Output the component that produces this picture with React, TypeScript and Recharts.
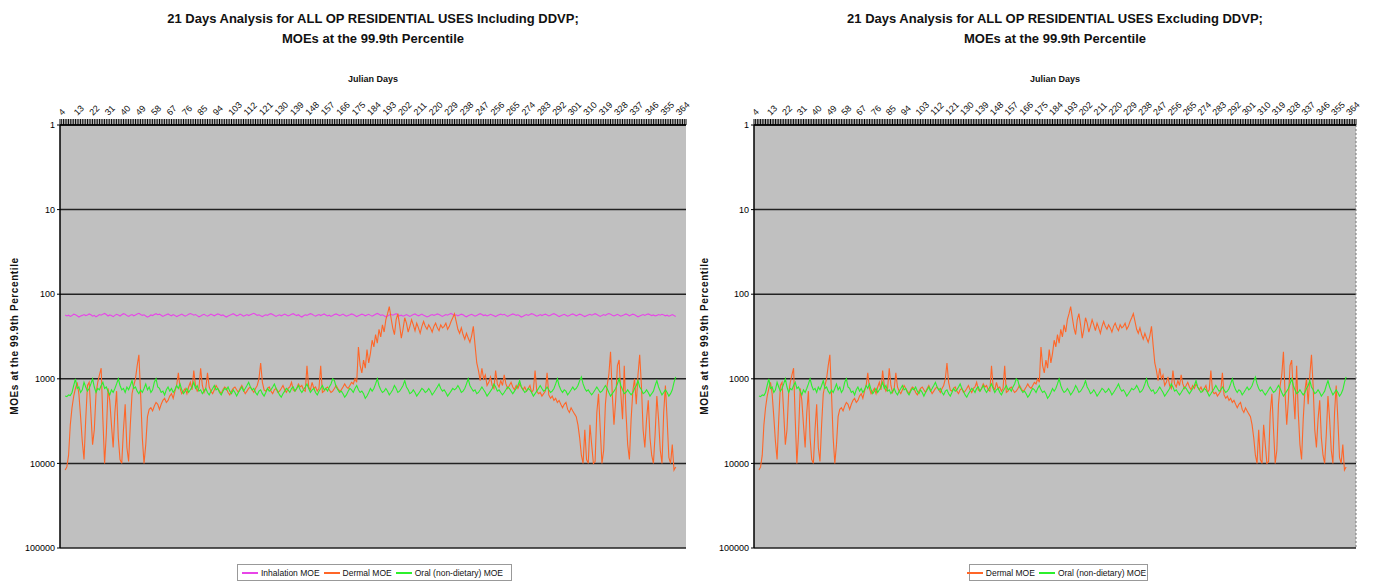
import React from 'react';
import { LineChart, Line, XAxis, YAxis, CartesianGrid, ReferenceLine } from 'recharts';

const FONT = "'Liberation Sans Narrow','Liberation Sans',Arial,sans-serif";

// Julian day categories (1..366); series start on day 4
const days: number[] = [];
for (let d = 1; d <= 366; d++) days.push(d);
const FIRST_DAY = 4;

const dayTickLabels = [4, 13, 22, 31, 40, 49, 58, 67, 76, 85, 94, 103, 112, 121, 130, 139, 148, 157, 166, 175, 184, 193, 202, 211, 220, 229, 238, 247, 256, 265, 274, 283, 292, 301, 310, 319, 328, 337, 346, 355, 364];
const yTicks = [1, 10, 100, 1000, 10000, 100000];

const inhalationMOE = [
  176,181,177,183,179,172,175,180,186,181,
  178,174,179,176,171,175,182,178,185,180,
  174,177,172,169,174,181,176,179,184,178,
  173,176,181,175,170,173,179,183,177,174,
  180,176,171,168,174,178,175,181,187,182,
  176,179,174,170,175,172,177,183,179,175,
  171,176,180,174,178,184,180,176,172,177,
  182,178,173,169,172,177,174,179,185,181,
  176,173,178,182,177,172,176,180,175,171,
  174,179,176,181,186,181,177,174,170,175,
  180,177,172,176,182,178,174,179,175,171,
  168,173,178,175,180,184,179,175,178,173,
  170,174,179,183,178,175,180,176,172,176,
  181,177,173,170,175,179,175,181,186,180,
  175,178,174,170,173,178,182,177,174,179,
  175,171,176,181,177,183,179,174,171,175,
  179,176,172,177,182,178,175,171,174,179,
  184,180,176,172,175,180,176,173,178,182,
  177,173,169,173,178,175,180,185,181,176,
  173,177,174,170,175,180,177,182,178,174,
  179,183,178,174,171,176,180,176,172,177,
  181,186,182,177,174,178,175,171,174,179,
  183,178,174,177,172,169,174,179,175,180,
  176,172,175,181,185,180,176,173,177,182,
  178,174,170,174,179,176,181,177,173,176,
  180,184,179,175,172,176,173,178,183,179,
  175,171,174,178,175,180,186,182,177,174,
  178,174,170,173,177,182,178,174,179,175,
  172,176,181,177,173,170,174,179,184,180,
  176,173,177,182,178,174,171,175,180,176,
  172,175,180,184,180,176,173,177,174,170,
  174,179,183,178,174,178,173,169,172,177,
  181,177,173,177,182,178,175,171,175,180,
  176,172,175,180,185,181,177,174,178,174,
  171,175,179,176,181,178,174,177,173,176,
  180,177,182,178,174,179,183,
];

const dermalMOE = [
  // days 4-53
  12000,11000,8000,3500,2200,1600,1300,1100,1500,2800,
  5500,9000,3000,1200,1100,2500,6000,4000,1500,1100,
  900,750,3000,10000,4500,1300,1800,3500,6500,2500,
  1400,5000,9000,10000,4000,2000,6500,9500,3500,1500,
  1200,1000,700,520,1500,5000,10000,6000,2800,2300,
  // days 54-173
  2200,2400,2100,1900,2000,2300,2000,1800,1700,1900,
  1800,1600,1500,1700,1400,1200,850,1300,1500,1400,
  1300,1500,1250,1100,1350,800,1200,1400,1300,750,
  1200,1450,1300,850,1250,1400,1500,1350,1200,1300,
  1400,1500,1350,1250,1300,1450,1550,1400,1300,1250,
  1350,1450,1300,1200,1350,1500,1400,1300,1250,1350,
  1450,1300,1200,1000,650,1100,1350,1400,1300,1250,
  1400,1500,1350,1300,1450,1400,1300,1200,1350,1450,
  1300,1250,1100,1350,1400,1300,1150,1250,1200,1350,
  1400,700,1250,1350,1100,1300,1250,1400,1300,700,
  1450,1400,1300,1250,1350,1450,1400,1300,1200,1300,
  1400,1350,1250,1150,1250,1300,1200,1100,1150,1000,
  // days 174-250
  1100,420,700,850,600,750,450,650,500,350,420,
  300,380,260,320,230,280,200,170,140,190,
  250,300,200,170,230,330,260,190,220,280,
  240,200,230,270,220,250,290,240,210,240,
  260,230,250,280,240,220,250,270,230,250,
  240,220,260,240,210,190,170,210,260,290,
  250,300,340,290,330,370,310,240,400,650,
  800,1050,750,1000,900,1200,
  // days 251-304
  1100,950,1200,1300,800,1150,1250,1050,1200,900,
  1150,1300,1200,1100,1250,1350,1200,1300,1150,1250,
  1350,1250,1400,1300,1200,1450,1350,800,1400,1500,
  1450,1600,1500,1400,850,1550,1700,1600,1800,1700,
  1900,1800,2000,2200,2000,1900,2300,2500,2200,2400,
  2600,2800,3500,5000,
  // days 305-360
  8000,10000,4000,9000,10000,3500,6000,10000,9500,2500,
  1500,4000,10000,7000,2000,1200,900,480,1500,3500,
  1800,700,600,1500,3000,700,2500,6000,9000,3000,
  1400,1000,2000,900,520,1200,4000,6500,3000,1800,
  5000,8000,10000,4500,1600,3000,7000,10000,2500,1200,
  3000,8500,10000,6000,12000,11000,
];

const oralMOE = [
  1600,1620,1550,1580,1450,1200,1000,1300,1250,1450,
  1350,1100,1250,1400,1300,1150,1000,1250,1450,1300,
  1350,1200,1100,1300,1250,1400,1550,1350,1450,1300,
  1150,1000,1200,1350,1300,1450,1250,1350,1200,1050,
  1300,1250,1400,1500,1350,1450,1300,1150,1350,1250,
  1450,1350,1100,1000,1250,1300,1450,1400,1550,1350,
  1250,1400,1300,1450,1350,1200,1300,1150,1350,1500,
  1400,1300,1450,1350,1250,1100,1300,1200,1400,1350,
  1500,1400,1300,1450,1550,1400,1300,1200,1350,1300,
  1450,1550,1400,1300,1350,1250,1400,1500,1350,1450,
  1600,1450,1350,1250,1400,1300,1200,1100,1250,1350,
  1300,1450,1550,1400,1350,1500,1600,1450,1300,1400,
  1350,1250,1150,1300,1400,1550,1650,1500,1400,1300,
  1350,1450,1300,1250,1400,1300,1200,1350,1450,1350,
  1250,1150,1300,1450,1350,1300,1450,1550,1400,1300,
  1200,1350,1300,1400,1250,1150,1000,1050,1250,1350,
  1450,1400,1500,1650,1550,1400,1300,1350,1450,1300,
  1200,1350,1450,1400,1500,1700,1600,1450,1300,1400,
  1300,1150,1000,1200,1350,1450,1400,1300,1400,1550,
  1450,1350,1200,1300,1450,1400,1300,1200,1050,1250,
  1350,1500,1450,1350,1450,1600,1500,1400,1300,1350,
  1450,1400,1300,1400,1550,1450,1350,1250,1150,1300,
  1400,1350,1450,1600,1500,1400,1300,1350,1300,1200,
  1300,1450,1400,1300,1150,1000,1200,1300,1400,1350,
  1500,1450,1350,1250,1350,1450,1600,1500,1400,1300,
  1150,1250,1400,1350,1450,1550,1450,1350,1250,1300,
  1400,1500,1400,1300,1200,1050,1250,1350,1450,1400,
  1300,1350,1450,1600,1500,1400,1300,1200,1300,1400,
  1350,1250,1350,1450,1400,1300,1150,1000,1200,1350,
  1450,1350,1400,1550,1450,1350,1250,1350,1300,1200,
  1050,950,1150,1300,1400,1350,1450,1550,1450,1350,
  1250,1350,1450,1400,1300,1200,1300,1450,1600,1500,
  1400,1300,1150,1000,1200,1350,1500,1450,1350,1450,
  1550,1450,1300,1200,1050,1250,1350,1500,1450,1350,
  1450,1600,1500,1400,1200,1050,1250,1400,1550,1450,
  1350,1450,1600,1500,1350,1100,950,
];

const COLORS = { inhalation: '#E845E8', dermal: '#FF6628', oral: '#2CF02C' };
const LABELS = { inhalation: 'Inhalation MOE', dermal: 'Dermal MOE', oral: 'Oral (non-dietary) MOE' };

const rows = days.map((d) => ({
  day: d,
  inhalation: inhalationMOE[d - FIRST_DAY] ?? null,
  dermal: dermalMOE[d - FIRST_DAY] ?? null,
  oral: oralMOE[d - FIRST_DAY] ?? null,
}));

const labelSet = new Set(dayTickLabels);

type Key = 'inhalation' | 'dermal' | 'oral';

function Panel(props: {
  left: number;
  width: number;
  yAxisWidth: number;
  marginRight: number;
  titleLine1: string;
  keys: Key[];
  legendLeft: number;
  legendWidth: number;
  rightBorder: boolean;
}) {
  const { left, width, yAxisWidth, marginRight, titleLine1, keys, legendLeft, legendWidth, rightBorder } = props;
  const plotLeft = 10 + yAxisWidth;
  const plotRight = width - marginRight;
  const center = (plotLeft + plotRight) / 2;
  return (
    <div style={{ position: 'absolute', left, top: 0, width, height: 581, fontFamily: FONT }}>
      <div style={{ position: 'absolute', left: center - 320, width: 640, top: 9, textAlign: 'center', fontSize: 13, fontWeight: 'bold', lineHeight: '20px', color: '#111' }}>
        {titleLine1}
        <br />
        MOEs at the 99.9th Percentile
      </div>
      <div style={{ position: 'absolute', left: center - 100, width: 200, top: 74, textAlign: 'center', fontSize: 9, fontWeight: 'bold', color: '#111' }}>
        Julian Days
      </div>
      <div style={{ position: 'absolute', left: 15 - 100, top: 330, width: 200, height: 12, textAlign: 'center', fontSize: 10, letterSpacing: 0.6, fontWeight: 'bold', transform: 'rotate(-90deg)', color: '#111', lineHeight: '12px', whiteSpace: 'nowrap' }}>
        MOEs at the 99.9th Percentile
      </div>
      <LineChart width={width} height={581} data={rows} margin={{ top: 85, right: marginRight, bottom: 33, left: 10 }}>
        <CartesianGrid horizontal vertical={false} fill="#C0C0C0" stroke="#222" strokeWidth={1.5} fillOpacity={1} />
        <XAxis
          dataKey="day"
          type="category"
          orientation="top"
          interval={0}
          height={40}
          tick={{ angle: -45, textAnchor: 'start', fontSize: 9, fill: '#111', fontFamily: FONT, dx: -3, dy: 0 }}
          tickFormatter={(v: number) => (labelSet.has(v) ? String(v) : '')}
          tickSize={6}
          tickMargin={3}
          tickLine={{ stroke: '#000', strokeWidth: 1 }}
          axisLine={{ stroke: '#000', strokeWidth: 1.5 }}
        />
        <YAxis
          type="number"
          scale="log"
          domain={[1, 100000]}
          ticks={yTicks}
          reversed
          allowDataOverflow
          width={yAxisWidth}
          tickSize={3}
          tickMargin={2}
          tick={{ fontSize: 9, fill: '#000', fontFamily: FONT }}
          tickLine={{ stroke: '#000' }}
          axisLine={{ stroke: '#000', strokeWidth: 1.5 }}
          tickFormatter={(v: number) => String(v)}
        />
        {rightBorder && <ReferenceLine x={366} stroke="#777" strokeDasharray="2 2" />}
        {keys.map((k) => (
          <Line
            key={k}
            dataKey={k}
            name={LABELS[k]}
            stroke={COLORS[k]}
            strokeWidth={1.1}
            dot={false}
            type="linear"
            isAnimationActive={false}
          />
        ))}
      </LineChart>
      <div style={{ position: 'absolute', left: legendLeft - left, top: 564, width: legendWidth, height: 17, border: '1px solid #999', background: '#fff', boxSizing: 'border-box', display: 'flex', alignItems: 'center', justifyContent: 'center', fontSize: 8.5, color: '#111', whiteSpace: 'nowrap' }}>
        {keys.map((k) => (
          <span key={k} style={{ display: 'inline-flex', alignItems: 'center', marginRight: 4, whiteSpace: 'nowrap' }}>
            <span style={{ display: 'inline-block', width: 16, height: 2, background: COLORS[k], marginRight: 3 }} />
            {LABELS[k]}
          </span>
        ))}
      </div>
    </div>
  );
}

export default function App() {
  return (
    <div style={{ position: 'absolute', left: 0, top: 0, width: 1379, height: 581, background: '#fff', overflow: 'hidden' }}>
      <style>{'.recharts-surface { overflow: visible; }'}</style>
      <Panel
        left={0}
        width={690}
        yAxisWidth={50}
        marginRight={4}
        titleLine1="21 Days Analysis for ALL OP RESIDENTIAL USES Including DDVP;"
        keys={['inhalation', 'dermal', 'oral']}
        legendLeft={237}
        legendWidth={275}
        rightBorder={false}
      />
      <Panel
        left={690}
        width={689}
        yAxisWidth={54}
        marginRight={23}
        titleLine1="21 Days Analysis for ALL OP RESIDENTIAL USES Excluding DDVP;"
        keys={['dermal', 'oral']}
        legendLeft={969}
        legendWidth={179}
        rightBorder={true}
      />
    </div>
  );
}
